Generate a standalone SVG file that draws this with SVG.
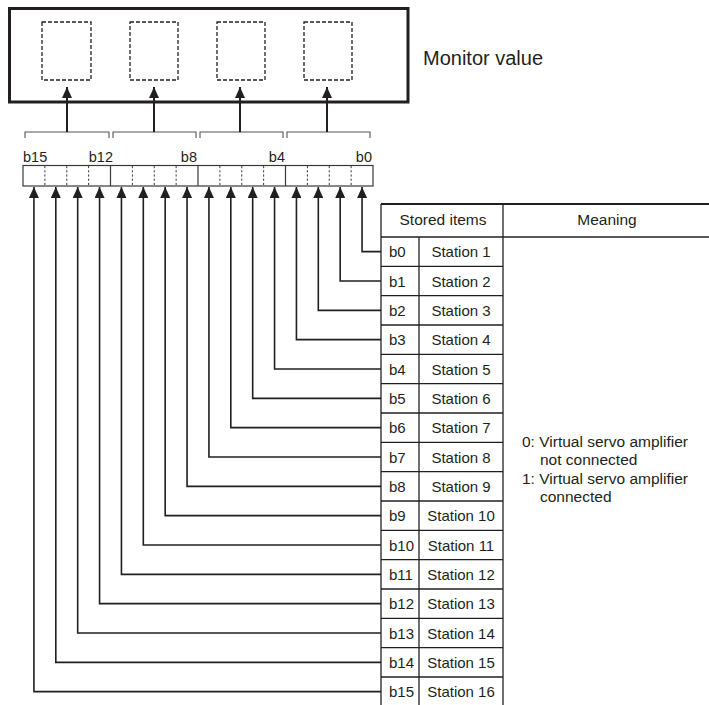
<svg xmlns="http://www.w3.org/2000/svg" width="709" height="705" viewBox="0 0 709 705">
  <defs>
    <style>
      text { font-family: "Liberation Sans", Arial, sans-serif; fill: #231f20; }
      .frame { fill: none; stroke: #231f20; stroke-width: 3; }
      .slot { fill: none; stroke: #231f20; stroke-width: 1.3; stroke-dasharray: 4 2; }
      .reg { fill: none; stroke: #3a3a3a; stroke-width: 1.2; }
      .regdash { stroke: #3a3a3a; stroke-width: 1; stroke-dasharray: 2.2 2; }
      .brace { fill: none; stroke: #555; stroke-width: 1.1; }
      .grid { stroke: #231f20; stroke-width: 1.3; fill: none; }
      .wire { fill: none; stroke: #231f20; stroke-width: 1.6; marker-start: url(#head); }
      .bit { font-size: 14.5px; }
      .cell { font-size: 15px; }
      .hdr { font-size: 15.5px; text-anchor: middle; }
      .note { font-size: 15.5px; }
    </style>
    <marker id="head" viewBox="0 0 11 10" refX="11" refY="5" markerWidth="11" markerHeight="10" markerUnits="userSpaceOnUse" orient="auto-start-reverse">
      <path d="M0,0 L11,5 L0,10 z" fill="#231f20"/>
    </marker>
  </defs>

  <!-- Monitor value display with four digit slots -->
  <g id="monitor">
    <rect class="frame" x="9.5" y="8.5" width="398.5" height="93.5"/>
    <rect class="slot" x="42" y="22" width="49" height="58"/>
    <rect class="slot" x="130" y="22" width="48" height="58"/>
    <rect class="slot" x="217" y="22" width="48" height="58"/>
    <rect class="slot" x="304" y="22" width="48" height="58"/>
    <text x="423" y="65" style="font-size:20px">Monitor value</text>
  </g>

  <!-- Group braces over each nibble -->
  <g id="braces">
    <path class="brace" d="M25 138 V132 H109 V138"/>
    <path class="brace" d="M113 138 V132 H196 V138"/>
    <path class="brace" d="M200 138 V132 H283 V138"/>
    <path class="brace" d="M287 138 V132 H370 V138"/>
  </g>

  <!-- 16-bit register -->
  <g id="register">
    <text class="bit" x="23" y="162">b15</text>
    <text class="bit" x="113" y="162" text-anchor="end">b12</text>
    <text class="bit" x="197" y="162" text-anchor="end">b8</text>
    <text class="bit" x="285" y="162" text-anchor="end">b4</text>
    <text class="bit" x="372" y="162" text-anchor="end">b0</text>
    <rect class="reg" x="23" y="165.5" width="350" height="20.5"/>
    <line class="reg" x1="110.5" y1="165.5" x2="110.5" y2="186"/>
    <line class="reg" x1="198" y1="165.5" x2="198" y2="186"/>
    <line class="reg" x1="285.5" y1="165.5" x2="285.5" y2="186"/>
    <g class="regdash">
      <line x1="44.875" y1="166" x2="44.875" y2="186"/>
      <line x1="66.75" y1="166" x2="66.75" y2="186"/>
      <line x1="88.625" y1="166" x2="88.625" y2="186"/>
      <line x1="132.375" y1="166" x2="132.375" y2="186"/>
      <line x1="154.25" y1="166" x2="154.25" y2="186"/>
      <line x1="176.125" y1="166" x2="176.125" y2="186"/>
      <line x1="219.875" y1="166" x2="219.875" y2="186"/>
      <line x1="241.75" y1="166" x2="241.75" y2="186"/>
      <line x1="263.625" y1="166" x2="263.625" y2="186"/>
      <line x1="307.375" y1="166" x2="307.375" y2="186"/>
      <line x1="329.25" y1="166" x2="329.25" y2="186"/>
      <line x1="351.125" y1="166" x2="351.125" y2="186"/>
    </g>
  </g>

  <!-- Stored items / Meaning table -->
  <g id="table">
    <line class="grid" x1="381" y1="204" x2="709" y2="204" style="stroke-width:1.8"/>
    <line class="grid" x1="381" y1="237" x2="709" y2="237" style="stroke-width:1.6"/>
    <line class="grid" x1="381" y1="204" x2="381" y2="705"/>
    <line class="grid" x1="503" y1="204" x2="503" y2="705"/>
    <line class="grid" x1="419" y1="237" x2="419" y2="705"/>
    <path class="grid" d="M381 266.33H503 M381 295.67H503 M381 325H503 M381 354.33H503 M381 383.67H503 M381 413H503 M381 442.33H503 M381 471.67H503 M381 501H503 M381 530.33H503 M381 559.67H503 M381 589H503 M381 618.33H503 M381 647.67H503 M381 677H503"/>
    <text class="hdr" x="443" y="225">Stored items</text>
    <text class="hdr" x="607" y="225">Meaning</text>

    <g class="cell">
      <text x="389" y="257.2">b0</text>
      <text x="389" y="286.5">b1</text>
      <text x="389" y="315.8">b2</text>
      <text x="389" y="345.2">b3</text>
      <text x="389" y="374.5">b4</text>
      <text x="389" y="403.8">b5</text>
      <text x="389" y="433.2">b6</text>
      <text x="389" y="462.5">b7</text>
      <text x="389" y="491.8">b8</text>
      <text x="389" y="521.2">b9</text>
      <text x="389" y="550.5">b10</text>
      <text x="389" y="579.8">b11</text>
      <text x="389" y="609.2">b12</text>
      <text x="389" y="638.5">b13</text>
      <text x="389" y="667.8">b14</text>
      <text x="389" y="697.2">b15</text>
    </g>
    <g class="cell" text-anchor="middle">
      <text x="461" y="257.2">Station 1</text>
      <text x="461" y="286.5">Station 2</text>
      <text x="461" y="315.8">Station 3</text>
      <text x="461" y="345.2">Station 4</text>
      <text x="461" y="374.5">Station 5</text>
      <text x="461" y="403.8">Station 6</text>
      <text x="461" y="433.2">Station 7</text>
      <text x="461" y="462.5">Station 8</text>
      <text x="461" y="491.8">Station 9</text>
      <text x="461" y="521.2">Station 10</text>
      <text x="461" y="550.5">Station 11</text>
      <text x="461" y="579.8">Station 12</text>
      <text x="461" y="609.2">Station 13</text>
      <text x="461" y="638.5">Station 14</text>
      <text x="461" y="667.8">Station 15</text>
      <text x="461" y="697.2">Station 16</text>
    </g>

    <g class="note">
      <text x="522" y="446.5">0: Virtual servo amplifier</text>
      <text x="540" y="465">not connected</text>
      <text x="522" y="483.5">1: Virtual servo amplifier</text>
      <text x="540" y="502">connected</text>
    </g>
  </g>

  <!-- Connectors: nibble to monitor slot, and bit to table row -->
  <g id="connectors">
    <path class="wire" d="M67 87 V132" style="stroke-width:2"/>
    <path class="wire" d="M154 87 V132" style="stroke-width:2"/>
    <path class="wire" d="M240 87 V132" style="stroke-width:2"/>
    <path class="wire" d="M327 87 V132" style="stroke-width:2"/>

    <path class="wire" d="M362.06 187 V251.67 H381"/>
    <path class="wire" d="M340.19 187 V281 H381"/>
    <path class="wire" d="M318.31 187 V310.33 H381"/>
    <path class="wire" d="M296.44 187 V339.67 H381"/>
    <path class="wire" d="M274.56 187 V369 H381"/>
    <path class="wire" d="M252.69 187 V398.33 H381"/>
    <path class="wire" d="M230.81 187 V427.67 H381"/>
    <path class="wire" d="M208.94 187 V457 H381"/>
    <path class="wire" d="M187.06 187 V486.33 H381"/>
    <path class="wire" d="M165.19 187 V515.67 H381"/>
    <path class="wire" d="M143.31 187 V545 H381"/>
    <path class="wire" d="M121.44 187 V574.33 H381"/>
    <path class="wire" d="M99.56 187 V603.67 H381"/>
    <path class="wire" d="M77.69 187 V633 H381"/>
    <path class="wire" d="M55.81 187 V662.33 H381"/>
    <path class="wire" d="M33.94 187 V691.67 H381"/>
  </g>
</svg>
